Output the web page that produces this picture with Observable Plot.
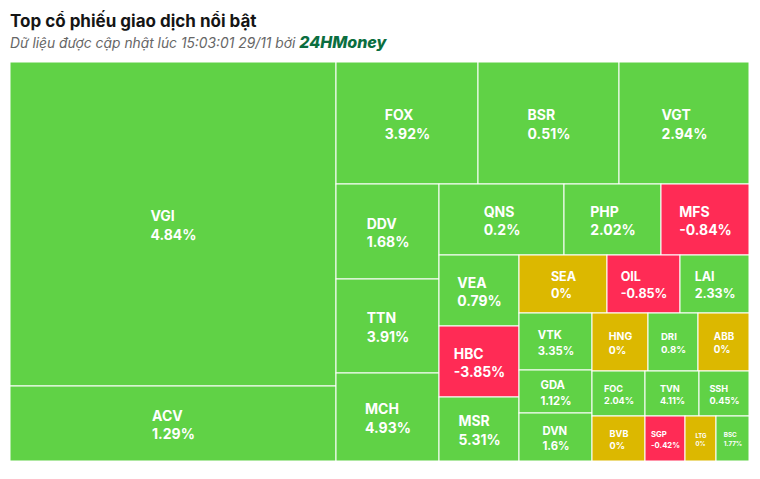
<!DOCTYPE html>
<html><head><meta charset="utf-8">
<script src="https://cdn.jsdelivr.net/npm/d3@7"></script>
<script src="https://cdn.jsdelivr.net/npm/@observablehq/plot@0.6"></script>
<style>
body{margin:0;background:#fff;font-family:Inter,sans-serif;width:760px;height:479px;position:relative;overflow:hidden}
#title{position:absolute;left:10px;top:11px;font-size:17px;font-weight:700;color:#151515;line-height:20px;white-space:nowrap}
#sub{position:absolute;left:10px;top:33px;font-size:13.8px;font-style:italic;color:#666;line-height:18px;white-space:nowrap}
#sub b{color:#0b6e3f;font-size:16px;font-weight:800}
#chart{position:absolute;left:0;top:62px}
</style></head>
<body>
<div id="title">Top cổ phiếu giao dịch nổi bật</div>
<div id="sub">Dữ liệu được cập nhật lúc 15:03:01 29/11 bởi <b>24HMoney</b></div>
<div id="chart"></div>
<script>
const symbols = ["VGI","ACV","FOX","BSR","VGT","DDV","TTN","MCH","QNS","PHP","MFS","VEA","HBC","MSR","SEA","OIL","LAI","VTK","GDA","DVN","HNG","DRI","ABB","FOC","TVN","SSH","BVB","SGP","LTG","BSC"];
const changes = [4.84,1.29,3.92,0.51,2.94,1.68,3.91,4.93,0.2,2.02,-0.84,0.79,-3.85,5.31,0,-0.85,2.33,3.35,1.12,1.6,0,0.8,0,2.04,4.11,0.45,0,-0.42,0,1.77];
const weights = [105624,24450,17324,17202,15860,9785,9682,9064,8875,6887,6248,5680,5680,5120,5104,4234,4002,4161,3139,3504,3248,2900,2958,2385,2430,2250,2385,1800,1395,1485];

// group structure (dice = side by side, slice = stacked)
const node = (dir, children) => ({dir, children});
const leaves = names => names.map(n => {
  const i = symbols.indexOf(n);
  return {name: n, change: changes[i], weight: weights[i]};
});
const tree = node("dice", [
  node("slice", leaves(["VGI","ACV"])),
  node("slice", [
    node("dice", leaves(["FOX","BSR","VGT"])),
    node("dice", [
      node("slice", leaves(["DDV","TTN","MCH"])),
      node("slice", [
        node("dice", leaves(["QNS","PHP","MFS"])),
        node("dice", [
          node("slice", leaves(["VEA","HBC","MSR"])),
          node("slice", [
            node("dice", leaves(["SEA","OIL","LAI"])),
            node("dice", [
              node("slice", leaves(["VTK","GDA","DVN"])),
              node("slice", [
                node("dice", leaves(["HNG","DRI","ABB"])),
                node("dice", leaves(["FOC","TVN","SSH"])),
                node("dice", leaves(["BVB","SGP","LTG","BSC"]))
              ])
            ])
          ])
        ])
      ])
    ])
  ])
]);

const W = 739, H = 399;
const root = d3.hierarchy(tree).sum(d => d.weight || 0);
d3.treemap().size([W, H]).round(false)
  .tile((n, x0, y0, x1, y1) => (n.data.dir === "slice" ? d3.treemapSlice : d3.treemapDice)(n, x0, y0, x1, y1))(root);

const ctx = document.createElement("canvas").getContext("2d");
const FONT = "Inter";
const WEIGHT = 700;
const cells = root.leaves().map(l => {
  const w = l.x1 - l.x0, h = l.y1 - l.y0;
  const p = l.parent;
  const pa = (p.x1 - p.x0) * (p.y1 - p.y0);
  const fs = Math.min(14, Math.sqrt(pa) / 9.2, w / 5.2);
  const pct = l.data.change + "%";
  ctx.font = `${WEIGHT} ${fs}px ${FONT}`;
  const tw = Math.max(ctx.measureText(l.data.name).width, ctx.measureText(pct).width);
  return {
    x0: l.x0, x1: l.x1, y0: l.y0, y1: l.y1,
    tx: (l.x0 + l.x1) / 2 - tw / 2, cy: (l.y0 + l.y1) / 2,
    fs, label: l.data.name + "\n" + pct,
    sign: Math.sign(l.data.change)
  };
});

const chart = Plot.plot({
  width: 760, height: 417,
  marginLeft: 10, marginRight: 11, marginTop: 0, marginBottom: 18,
  x: {domain: [0, W], range: [10, 749], axis: null},
  y: {domain: [0, H], range: [0, 399], axis: null},
  color: {domain: [-1, 0, 1], range: ["#ff2b55", "#dcb800", "#60d246"]},
  style: {fontFamily: FONT, background: "#fff"},
  marks: [
    Plot.rect(cells, {x1: "x0", x2: "x1", y1: "y0", y2: "y1", fill: "sign", stroke: "#fff", strokeWidth: 1}),
    Plot.text(cells, {x: "tx", y: "cy", text: "label", fontSize: d => d.fs, textAnchor: "start", lineAnchor: "middle", lineHeight: 1.35, fill: "#fff", fontWeight: WEIGHT})
  ]
});
document.getElementById("chart").appendChild(chart);
</script>
</body></html>
